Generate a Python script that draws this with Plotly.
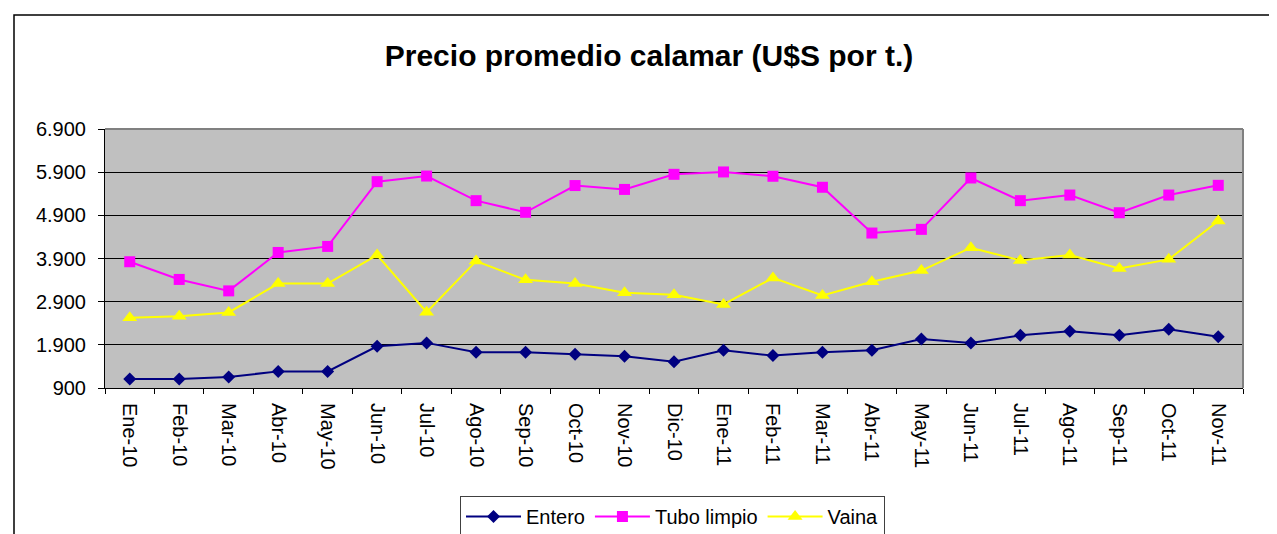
import plotly.graph_objects as go

categories = ["Ene-10", "Feb-10", "Mar-10", "Abr-10", "May-10", "Jun-10", "Jul-10",
              "Ago-10", "Sep-10", "Oct-10", "Nov-10", "Dic-10", "Ene-11", "Feb-11",
              "Mar-11", "Abr-11", "May-11", "Jun-11", "Jul-11", "Ago-11", "Sep-11",
              "Oct-11", "Nov-11"]

entero = [1110, 1110, 1155, 1285, 1285, 1865, 1945, 1730, 1730, 1680, 1635, 1510,
          1775, 1650, 1730, 1775, 2035, 1945, 2120, 2215, 2120, 2260, 2085]

tubo_limpio = [3825, 3415, 3150, 4040, 4180, 5680, 5810, 5240, 4970, 5590, 5500, 5850,
               5905, 5805, 5550, 4490, 4575, 5765, 5240, 5370, 4960, 5370, 5595]

vaina = [2525, 2565, 2650, 3320, 3320, 3980, 2655, 3840, 3405, 3320, 3105, 3060,
         2835, 3450, 3045, 3360, 3620, 4150, 3855, 3980, 3670, 3880, 4770]

y_ticks = [900, 1900, 2900, 3900, 4900, 5900, 6900]

FONT = "Liberation Sans, Arial, sans-serif"

fig = go.Figure()
fig.add_trace(go.Scatter(
    x=categories, y=entero, name="Entero", mode="lines+markers",
    line=dict(color="#000080", width=2),
    marker=dict(symbol="diamond", size=10, color="#000080"),
))
fig.add_trace(go.Scatter(
    x=categories, y=tubo_limpio, name="Tubo limpio", mode="lines+markers",
    line=dict(color="#FF00FF", width=2),
    marker=dict(symbol="square", size=11, color="#FF00FF"),
))
fig.add_trace(go.Scatter(
    x=categories, y=vaina, name="Vaina", mode="lines+markers",
    line=dict(color="#FFFF00", width=2),
    marker=dict(symbol="triangle-up", size=13, color="#FFFF00"),
))

W, H = 1277, 534
L, R, T, B = 97, 1235, 121, 380

def px_x(x):
    return (x - L) / (R - L)

def px_y(y):
    return (B - y) / (B - T)

fig.update_layout(
    width=W, height=H,
    margin=dict(l=L, r=W - R, t=T, b=H - B, pad=0),
    paper_bgcolor="white",
    plot_bgcolor="#C0C0C0",
    separators=",.",
    font=dict(family=FONT, size=20, color="black"),
    title=dict(
        text="<b>Precio promedio calamar (U$S por t.)</b>",
        font=dict(family=FONT, size=30, color="black"),
        x=641 / W, xanchor="center", xref="container",
        y=1 - 47 / H, yanchor="middle", yref="container",
    ),
    showlegend=True,
    legend=dict(
        orientation="h",
        x=664.5 / W, xanchor="center", xref="container",
        y=1 - 508.5 / H, yanchor="middle", yref="container",
        bgcolor="white", bordercolor="#404040", borderwidth=1,
        font=dict(family=FONT, size=20, color="black"),
        itemwidth=55,
    ),
    xaxis=dict(
        type="category",
        range=[-0.5, len(categories) - 0.5],
        showgrid=False,
        showline=True, linecolor="black", linewidth=1,
        ticks="outside", tickson="boundaries", ticklen=5, tickcolor="black",
        tickangle=90,
        ticklabelstandoff=10,
        tickfont=dict(family=FONT, size=20, color="black"),
        zeroline=False,
        fixedrange=True,
    ),
    yaxis=dict(
        range=[900, 6900],
        tickmode="array", tickvals=y_ticks,
        tickformat=",d",
        showgrid=True, gridcolor="black", gridwidth=1,
        showline=True, linecolor="black", linewidth=1,
        ticks="outside", ticklen=6, tickcolor="black",
        ticklabelstandoff=8,
        tickfont=dict(family=FONT, size=20, color="black"),
        zeroline=False,
        fixedrange=True,
    ),
    shapes=[
        # plot area top and right border (gray)
        dict(type="line", xref="paper", yref="paper", x0=0, x1=1, y0=1, y1=1,
             line=dict(color="#808080", width=2)),
        dict(type="line", xref="paper", yref="paper", x0=1, x1=1, y0=0, y1=1,
             line=dict(color="#808080", width=2)),
        # outer chart frame
        dict(type="rect", xref="paper", yref="paper",
             x0=px_x(6), x1=px_x(1268), y0=px_y(560), y1=px_y(7),
             line=dict(color="black", width=1.5), fillcolor="rgba(0,0,0,0)"),
    ],
)

fig.write_html("out.html")
